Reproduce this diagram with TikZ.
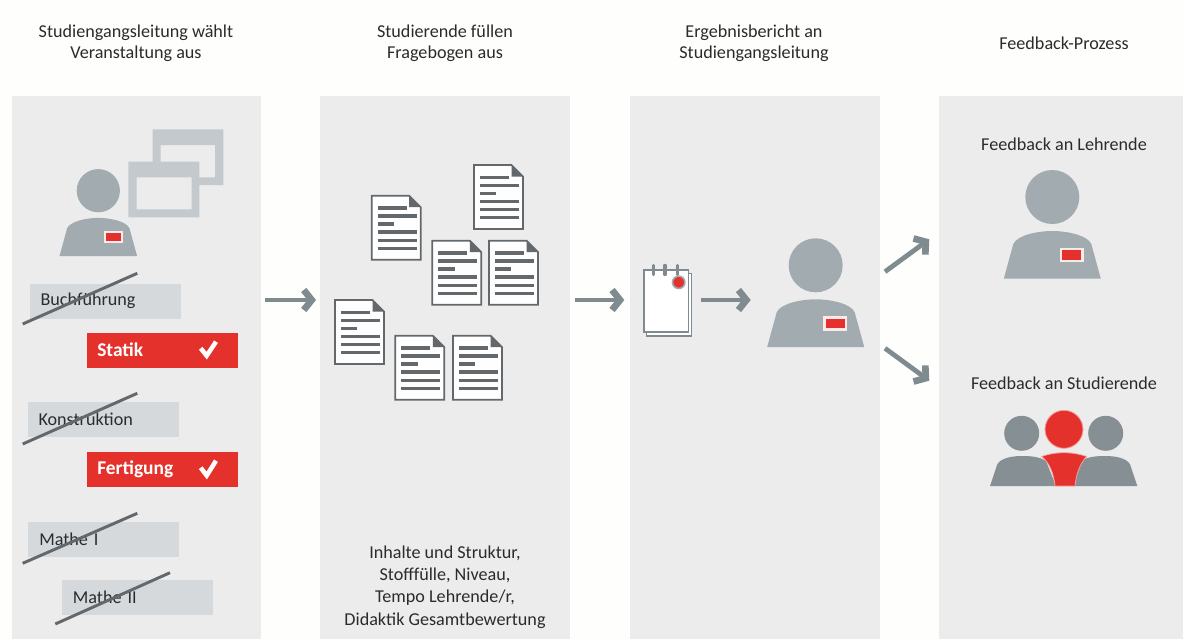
\documentclass[tikz,border=0pt]{standalone}
\usepackage{fontspec}
\setmainfont{Carlito}
\usepackage{tikz}
\usetikzlibrary{arrows.meta,positioning}
\definecolor{pagewhite}{HTML}{FEFEFC}
\definecolor{panelgray}{HTML}{ECECED}
\definecolor{listgray}{HTML}{D5D9DC}
\definecolor{windowgray}{HTML}{C3C9CD}
\definecolor{persongray}{HTML}{A2ABB0}
\definecolor{groupgray}{HTML}{858F94}
\definecolor{arrowgray}{HTML}{7F8B8E}
\definecolor{docgray}{HTML}{62686B}
\definecolor{signalred}{HTML}{E4312B}
\definecolor{inkgray}{HTML}{2B2B2B}
\tikzset{
  panel/.style={fill=panelgray,anchor=north west,inner sep=0pt,minimum width=#1*0.75pt,minimum height=543*0.75pt},
  caption/.style={align=center,text=inkgray,font=\fontsize{13.6pt}{16pt}\selectfont,inner sep=0pt},
  listbox/.style={fill=listgray,anchor=north west,inner xsep=8.25pt,inner ysep=0pt,text width=96.75pt,
    minimum height=26.25pt,align=left,text=inkgray,font=\fontsize{13.6pt}{15pt}\selectfont},
  redbox/.style={fill=signalred,anchor=north west,inner xsep=7.5pt,inner ysep=0pt,text width=98pt,
    minimum height=26.25pt,align=left,text=white,font=\fontsize{14.6pt}{15pt}\selectfont\bfseries},
  strikeline/.style={draw=docgray,line width=2.2pt},
  ticksign/.style={draw=white,line width=3.4pt},
  flowarrow/.style={draw=arrowgray,line width=3.6pt,-{Straight Barb[length=6pt,width=15pt,line width=5pt]}}
}
% one sheet, from its top left corner
\newcommand{\sheet}[2]{
  \begin{scope}[shift={(#1,#2)}]
    \draw [docgray,fill=white!97!panelgray,line width=1.3pt] (0,0) -- (37.5,0) -- (49,11.5) -- (49,64) -- (0,64) -- cycle;
    \fill [docgray] (37.5,0) -- (49,11.5) -- (37.5,11.5) -- cycle;
    \draw [docgray,line width=2.4pt] (6,12.3) -- (35,12.3);
    \draw [docgray,line width=2.4pt] (6,20.3) -- (45,20.3);
    \draw [docgray,line width=2.4pt] (6,28.3) -- (22.3,28.3);
    \draw [docgray,line width=2.4pt] (6,36.3) -- (45,36.3);
    \draw [docgray,line width=2.4pt] (6,44.7) -- (45,44.7);
    \draw [docgray,line width=2.4pt] (6,52.7) -- (45,52.7);
  \end{scope}
}
% person with a badge, from the centre of the head
\newcommand{\badgeperson}[3]{
  \begin{scope}[shift={(#1,#2)},x=#3*0.75pt,y=-#3*0.75pt]
    \fill [persongray] (0,0) circle (27);
    \fill [persongray] (-48.5,81.7) -- (-39,47) .. controls (-35,38) and (-14,34) .. (0,34)
      .. controls (14,34) and (35,38) .. (39,47) -- (48.5,81.7) -- cycle;
    \draw [white!90!signalred,fill=signalred,line width=#3*1.9pt] (8.8,52) rectangle (30.2,64);
  \end{scope}
}
\begin{document}
\begin{tikzpicture}[x=0.75pt,y=-0.75pt]
  \useasboundingbox (0,0) rectangle (1183,639);
  \fill [pagewhite] (0,0) rectangle (1183,639);
  % panels
  \node [panel=249] (panelA) at (12,96) {};
  \node [panel=250] (panelB) at (320,96) {};
  \node [panel=250] (panelC) at (630,96) {};
  \node [panel=244] (panelD) at (939,96) {};
  % headings
  \node [caption] (headA) at (136,43.5) {Studiengangsleitung wählt\\Veranstaltung aus};
  \node [caption] (headB) at (445,43.5) {Studierende füllen\\Fragebogen aus};
  \node [caption] (headC) at (754,43.5) {Ergebnisbericht an\\Studiengangsleitung};
  \node [caption] (headD) at (1064,43.5) {Feedback-Prozess};
  % first panel
  \fill [windowgray,even odd rule] (152.7,129.3) rectangle (223.3,185) (160.7,145) rectangle (215,177.3);
  \fill [panelgray] (136.7,177.3) rectangle (191.7,209.3);
  \fill [windowgray,even odd rule] (128.3,161.7) rectangle (199.3,217.3) (136.7,177.3) rectangle (191.7,209.3);
  \badgeperson{98.3}{190.7}{0.8}
  \node [listbox] (buch) at (29.3,283.3) {Buchführung};
  \node [redbox] (statik) at (87,332.3) {Statik};
  \node [listbox] (konstr) at (27.3,401.7) {Konstruktion};
  \node [redbox] (fertig) at (87,451.7) {Fertigung};
  \node [listbox] (matheA) at (28,521.7) {Mathe I};
  \node [listbox] (matheB) at (61.7,579.3) {Mathe II};
  \coordinate (buchL) at (22.7,324);
  \coordinate (buchR) at (137.3,273.3);
  \coordinate (konstrL) at (22.7,444);
  \coordinate (konstrR) at (137.3,393.3);
  \coordinate (matheAL) at (22.7,563.3);
  \coordinate (matheAR) at (137.3,513.3);
  \coordinate (matheBL) at (55.3,624);
  \coordinate (matheBR) at (170,572.7);
  \draw [strikeline] (buchL) -- (buchR);
  \draw [strikeline] (konstrL) -- (konstrR);
  \draw [strikeline] (matheAL) -- (matheAR);
  \draw [strikeline] (matheBL) -- (matheBR);
  \draw [ticksign] (200.7,348.3) -- (206.7,355.7) -- (216,341.7);
  \draw [ticksign] (200.7,467.7) -- (206.7,475.5) -- (216,460.7);
  % second panel
  \sheet{371.7}{195.7}
  \sheet{474}{165}
  \sheet{432.3}{240.7}
  \sheet{489}{240.7}
  \sheet{335}{300}
  \sheet{395.3}{335.7}
  \sheet{453}{335.7}
  \node [caption,font=\fontsize{13.6pt}{16.7pt}\selectfont] (topics) at (445,587) {Inhalte und Struktur,\\Stofffülle, Niveau,\\Tempo Lehrende/r,\\Didaktik Gesamtbewertung};
  % third panel
  \draw [arrowgray,fill=white,line width=0.9pt] (646.7,273.3) rectangle (691.7,336);
  \draw [arrowgray,fill=white,line width=1.2pt] (644,270) rectangle (688.3,331.7);
  \draw [arrowgray,line width=2.6pt,line cap=round] (653.3,265.5) -- (653.3,274.5);
  \draw [arrowgray,line width=2.6pt,line cap=round] (665,265.5) -- (665,274.5);
  \draw [arrowgray,line width=2.6pt,line cap=round] (677.7,265.5) -- (677.7,274.5);
  \draw [persongray,fill=signalred,line width=1.2pt] (678.7,282.3) circle (6.2);
  \badgeperson{815.7}{265.3}{1}
  % fourth panel
  \node [caption] (lehrende) at (1064,144) {Feedback an Lehrende};
  \badgeperson{1052.3}{197}{1}
  \node [caption] (studis) at (1064,383) {Feedback an Studierende};
  \fill [groupgray] (1021.7,433.3) circle (17.5);
  \fill [groupgray] (1105.7,433.3) circle (17.5);
  \fill [groupgray] (990,486) -- (997,465) .. controls (1000,458) and (1012,456) .. (1022,456)
    .. controls (1032,456) and (1040,457) .. (1046,461) -- (1056,486) -- cycle;
  \fill [groupgray] (1137.3,486) -- (1130.3,465) .. controls (1127.3,458) and (1115.3,456) .. (1105.3,456)
    .. controls (1095.3,456) and (1087,457) .. (1081,461) -- (1074,486) -- cycle;
  \draw [white!55!signalred,fill=signalred,line width=0.6pt] (1064,429.3) circle (19);
  \draw [white!55!signalred,fill=signalred,line width=0.6pt] (1041.7,456.5) .. controls (1050,453.5) and (1058,452.7) .. (1064,452.7)
    .. controls (1070,452.7) and (1078,453.5) .. (1086.7,456.5) .. controls (1080,463) and (1076,475) .. (1075,486) -- (1055,486) .. controls (1054,475) and (1050,463) .. (1041.7,456.5) -- cycle;
  % arrows
  \coordinate (outA) at (265,300);
  \coordinate (inB) at (316,300);
  \coordinate (outB) at (574.7,300);
  \coordinate (inC) at (624.3,300);
  \coordinate (outPad) at (700.7,300);
  \coordinate (inReader) at (750.7,300);
  \coordinate (outUp) at (885,271.7);
  \coordinate (inUp) at (929.3,239.3);
  \coordinate (outDown) at (885,348.3);
  \coordinate (inDown) at (929.3,380.7);
  \draw [flowarrow] (outA) -- (inB);
  \draw [flowarrow] (outB) -- (inC);
  \draw [flowarrow] (outPad) -- (inReader);
  \draw [flowarrow] (outUp) -- (inUp);
  \draw [flowarrow] (outDown) -- (inDown);
\end{tikzpicture}
\end{document}
